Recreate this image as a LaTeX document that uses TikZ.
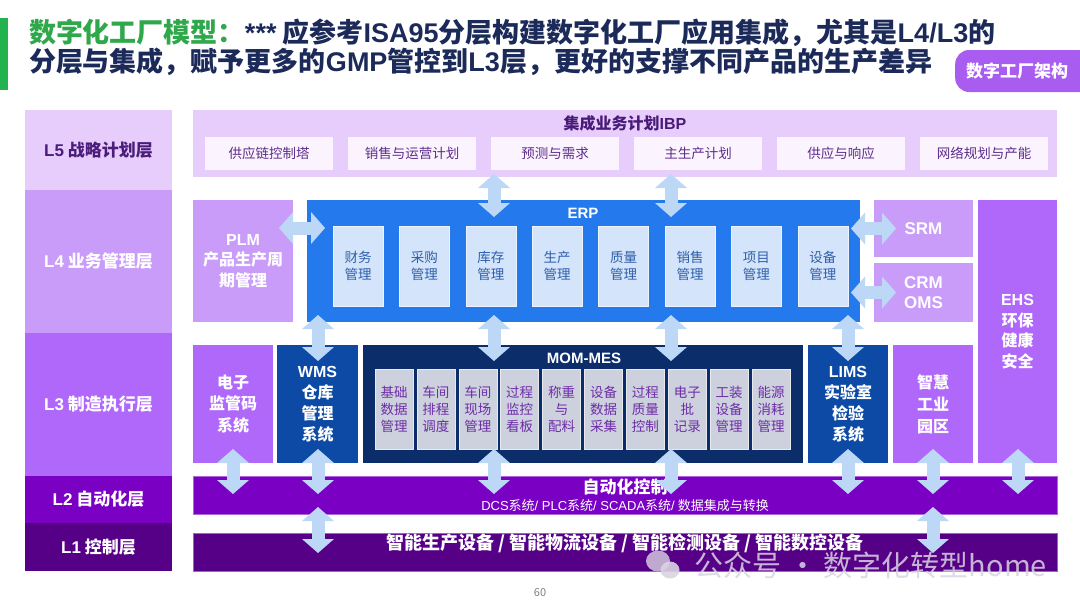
\documentclass[tikz,border=0pt]{standalone}
\usepackage{fontspec}
\setmainfont{Noto Sans CJK SC}
\newfontfamily\lat{Liberation Sans}
\usetikzlibrary{calc,arrows.meta}
\definecolor{c5}{HTML}{E6CDFB}
\definecolor{c4}{HTML}{C99CFA}
\definecolor{c3}{HTML}{B068FB}
\definecolor{c2}{HTML}{7A00C3}
\definecolor{c1}{HTML}{560088}
\definecolor{erpc}{HTML}{2479EC}
\definecolor{erpsub}{HTML}{D3E4FB}
\definecolor{erpt}{HTML}{2F5FAA}
\definecolor{wmsc}{HTML}{0C4AA6}
\definecolor{momc}{HTML}{0B2E6B}
\definecolor{momsub}{HTML}{CCD1DD}
\definecolor{momt}{HTML}{6E2CA8}
\definecolor{ibpsub}{HTML}{FBF4FE}
\definecolor{ibpt}{HTML}{5C2E8A}
\definecolor{ibptitle}{HTML}{4A1A78}
\definecolor{c5t}{HTML}{4B1C7B}
\definecolor{arrowc}{HTML}{BDD8F7}
\definecolor{tgreen}{HTML}{2EA84A}
\definecolor{tnavy}{HTML}{1C2A5A}
\definecolor{pillc}{HTML}{A95CF0}
\definecolor{gbar}{HTML}{22B24E}
\definecolor{wmc}{HTML}{DAD4E2}
\newcommand\bx[6]{\node[box,#6,minimum width=#4pt,minimum height=#5pt] (#1) at ({#2},{#3})}
\newcommand\lblf{\bfseries\fontsize{17}{20}\selectfont}
\newcommand\wlabf{\bfseries\fontsize{16}{20.5}\selectfont}
\newcommand\subf{\fontsize{13.5}{17}\selectfont}
\begin{document}
\begin{tikzpicture}[x=1pt,y=-1pt,
  box/.style={inner sep=0pt,outer sep=0pt,anchor=north west,align=center},
  txt/.style={inner sep=0pt,outer sep=0pt,align=center},
  ttl/.style={txt,anchor=west,font=\bfseries\fontsize{27}{30}\selectfont},
  wlab/.style={text=white,font=\wlabf},
  barrow/.style={draw=arrowc,line width=13pt,{Triangle[width=32pt,length=14pt,line width=0pt]}-{Triangle[width=32pt,length=14pt,line width=0pt]}}
]
\useasboundingbox (0,0) rectangle (1080,608);
\fill[white] (0,0) rectangle (1080,608);
\fill[gbar] (0,18) rectangle (8,90);
% title
\node[ttl] (t1) at (29,33) {\color{tgreen}数字化工厂模型：\color{tnavy}{\lat ***} 应参考{\lat ISA95}分层构建数字化工厂应用集成，尤其是{\lat L4/L3}的};
\node[ttl,text=tnavy] (t2) at (29,62) {分层与集成，赋予更多的{\lat GMP}管控到{\lat L3}层，更好的支撑不同产品的生产差异};
\node[fill=pillc,rounded corners=14pt,minimum width=150pt,minimum height=42pt,inner sep=0pt,anchor=west] (tag) at (955,71) {};
\node[txt,text=white,font=\bfseries\fontsize{17}{20}\selectfont] (tagt) at (1017,71) {数字工厂架构};
% left layer column
\bx{l5}{25}{110}{147}{80}{fill=c5,text=c5t,font=\lblf}{{\lat L5} 战略计划层};
\bx{l4}{25}{190}{147}{143}{fill=c4,text=white,font=\lblf}{{\lat L4} 业务管理层};
\bx{l3}{25}{333}{147}{143}{fill=c3,text=white,font=\lblf}{{\lat L3} 制造执行层};
\bx{l2}{25}{476}{147}{47}{fill=c2,text=white,font=\lblf}{{\lat L2} 自动化层};
\bx{l1}{25}{523}{147}{48}{fill=c1,text=white,font=\lblf}{{\lat L1} 控制层};
% IBP
\bx{ibp}{193}{110}{864}{67}{fill=c5}{};
\node[txt,text=ibptitle,font=\bfseries\fontsize{16}{18}\selectfont] (ibpt) at (625,123) {集成业务计划{\lat IBP}};
\foreach \t [count=\i] in {供应链控制塔,销售与运营计划,预测与需求,主生产计划,供应与响应,网络规划与产能}
  {\bx{s\i}{205+143*(\i-1)}{137}{128}{33}{fill=ibpsub,text=ibpt,font=\fontsize{13.5}{16}\selectfont}{\t};}
% L4 row
\bx{plm}{193}{200}{100}{122}{fill=c4,wlab}{{\lat PLM}\\产品生产周\\期管理};
\bx{erp}{307}{200}{553}{122}{fill=erpc}{};
\node[txt,text=white,font=\lat\bfseries\fontsize{15}{17}\selectfont] (erpt) at (583,213) {ERP};
\foreach \t [count=\i] in {财务,采购,库存,生产,质量,销售,项目,设备}
  {\bx{e\i}{333+66.4*(\i-1)}{226}{50}{80}{fill=erpsub,draw=white!60!erpsub,line width=0.6pt,text=erpt,font=\subf}{\t\\管理};}
\bx{srm}{874}{200}{99}{57}{fill=c4,wlab,font=\lat\bfseries\fontsize{17}{20}\selectfont}{SRM};
\bx{crm}{874}{263}{99}{59}{fill=c4,wlab,font=\lat\bfseries\fontsize{17}{19.5}\selectfont}{CRM\\OMS};
\bx{ehs}{978}{200}{79}{263}{fill=c3,wlab}{{\lat EHS}\\环保\\健康\\安全};
% L3 row
\bx{dz}{193}{345}{80}{118}{fill=c3,wlab,font=\bfseries\fontsize{16}{21.5}\selectfont}{电子\\监管码\\系统};
\bx{wms}{277}{345}{81}{118}{fill=wmsc,wlab,font=\bfseries\fontsize{16}{21}\selectfont}{{\lat WMS}\\仓库\\管理\\系统};
\bx{mom}{363}{345}{440}{118}{fill=momc}{};
\node[txt,text=white,font=\lat\bfseries\fontsize{15}{17}\selectfont] (momt) at (584,358) {MOM-MES};
\foreach \t [count=\i] in {{基础\\数据\\管理},{车间\\排程\\调度},{车间\\现场\\管理},{过程\\监控\\看板},{称重\\与\\配料},{设备\\数据\\采集},{过程\\质量\\控制},{电子\\批\\记录},{工装\\设备\\管理},{能源\\消耗\\管理}}
  {\bx{m\i}{375+41.9*(\i-1)}{369}{38}{80}{fill=momsub,draw=white!55!momsub,line width=0.6pt,text=momt,font=\subf}{\t};}
\bx{lims}{808}{345}{80}{118}{fill=wmsc,wlab,font=\bfseries\fontsize{16}{21}\selectfont}{{\lat LIMS}\\实验室\\检验\\系统};
\bx{zh}{893}{345}{80}{118}{fill=c3,wlab,font=\bfseries\fontsize{16}{22}\selectfont}{智慧\\工业\\园区};
% L2 / L1 bands
\bx{l2b}{193}{476}{864}{38}{fill=c2,draw=c2!60!white,line width=0.7pt}{};
\node[txt,text=white,font=\bfseries\fontsize{17}{19}\selectfont] (l2t) at (625,487) {自动化控制};
\node[txt,text=white,font=\fontsize{13}{15}\selectfont] (l2s) at (625,506) {{\lat DCS}系统{\lat / PLC}系统{\lat / SCADA}系统{\lat /} 数据集成与转换};
\bx{l1b}{193}{533}{864}{38}{fill=c1,draw=c1!60!white,line width=0.7pt}{};
\node[txt,text=white,font=\bfseries\fontsize{18}{20}\selectfont] (l1t) at (625,543) {智能生产设备 / 智能物流设备 / 智能检测设备 / 智能数控设备};
% arrow columns
\coordinate (xa) at (233,0);
\coordinate (xb) at (318,0);
\coordinate (xc) at (494,0);
\coordinate (xd) at (671,0);
\coordinate (xe) at (848,0);
\coordinate (xf) at (933,0);
\coordinate (xg) at (1018,0);
\coordinate (ya) at (0,228);
% IBP <-> ERP
\foreach \c in {xc,xd}
  \draw[barrow] ($(ibp.south -| \c)+(0,-3)$) -- ($(erp.north -| \c)+(0,17)$);
% side arrows
\draw[barrow] ($(plm.east |- ya)+(-14,0)$) -- ($(erp.west |- ya)+(18,0)$);
\draw[barrow] ($(erp.east |- srm.west)+(-9,0)$) -- ($(srm.west)+(22,0)$);
\draw[barrow] ($(erp.east |- crm.west)+(-9,0)$) -- ($(crm.west)+(22,0)$);
% ERP <-> L3
\draw[barrow] ($(erp.south -| xb)+(0,-7)$) -- ($(wms.north -| xb)+(0,16)$);
\draw[barrow] ($(erp.south -| xc)+(0,-7)$) -- ($(mom.north -| xc)+(0,16)$);
\draw[barrow] ($(erp.south -| xd)+(0,-7)$) -- ($(mom.north -| xd)+(0,16)$);
\draw[barrow] ($(erp.south -| xe)+(0,-7)$) -- ($(lims.north -| xe)+(0,16)$);
% L3 <-> L2
\draw[barrow] ($(dz.south -| xa)+(0,-14)$) -- ($(l2b.north -| xa)+(0,18)$);
\draw[barrow] ($(wms.south -| xb)+(0,-14)$) -- ($(l2b.north -| xb)+(0,18)$);
\draw[barrow] ($(mom.south -| xc)+(0,-14)$) -- ($(l2b.north -| xc)+(0,18)$);
\draw[barrow] ($(mom.south -| xd)+(0,-14)$) -- ($(l2b.north -| xd)+(0,18)$);
\draw[barrow] ($(lims.south -| xe)+(0,-14)$) -- ($(l2b.north -| xe)+(0,18)$);
\draw[barrow] ($(zh.south -| xf)+(0,-14)$) -- ($(l2b.north -| xf)+(0,18)$);
\draw[barrow] ($(ehs.south -| xg)+(0,-14)$) -- ($(l2b.north -| xg)+(0,18)$);
% L2 <-> L1
\draw[barrow] ($(l2b.south -| xb)+(0,-7)$) -- ($(l1b.north -| xb)+(0,20)$);
\draw[barrow] ($(l2b.south -| xf)+(0,-7)$) -- ($(l1b.north -| xf)+(0,20)$);
% watermark and page number
\fill[wmc,opacity=0.8] (658,561) ellipse (12pt and 10.5pt);
\fill[wmc,opacity=0.9] (670,570) ellipse (9.5pt and 8.5pt);
\node[txt,text=wmc,opacity=0.85,font=\fontsize{29}{32}\selectfont] (wmk) at (871,565) {公众号 · 数字化转型home};
\node[txt,text=gray,font=\fontsize{11}{12}\selectfont] (pg) at (540,593) {60};
\end{tikzpicture}
\end{document}
